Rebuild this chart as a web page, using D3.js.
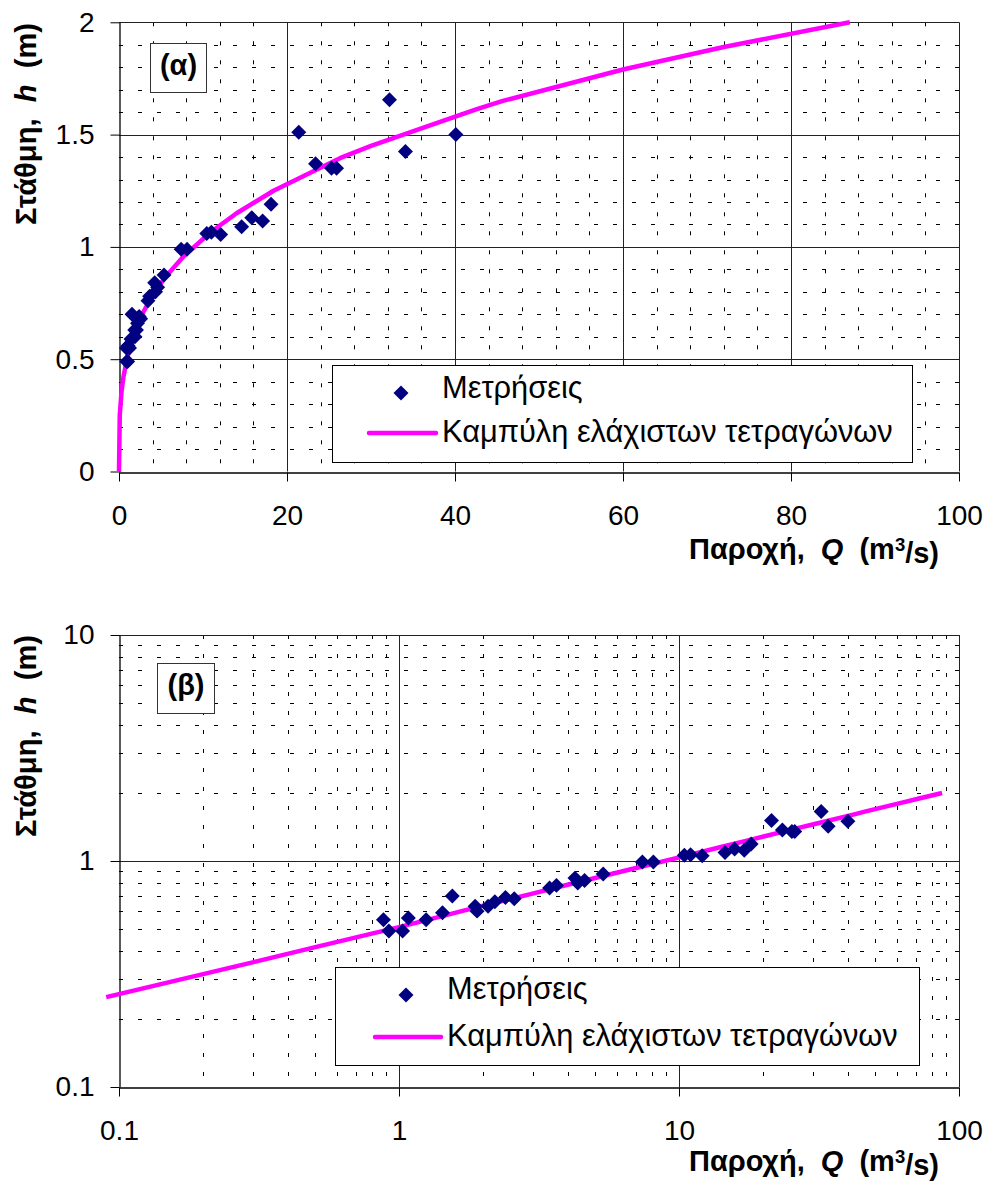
<!DOCTYPE html>
<html>
<head>
<meta charset="utf-8">
<script src="https://cdn.jsdelivr.net/npm/d3@7"></script>
<style>
  html, body { margin: 0; padding: 0; background: #fff; }
  svg { display: block; }
  text { font-family: "Liberation Sans", Arial, sans-serif; fill: #000; }
</style>
</head>
<body>
<svg id="chart" width="992" height="1182"></svg>
<script>
// ---------- data ----------
// measured discharge Q (m3/s) and stage h (m)
const measQ = [0.88, 0.92, 1.03, 1.08, 1.25, 1.43, 1.55, 1.87, 1.90, 2.08,
               2.20, 2.40, 2.58, 3.45, 3.65, 4.25, 4.35, 4.60, 5.36, 7.40,
               8.10, 10.45, 11.0, 12.1, 14.6, 15.8, 17.1, 18.1, 21.4, 23.4,
               25.3, 25.9, 32.2, 34.1, 40.1];
const measH = [0.55, 0.49, 0.49, 0.56, 0.55, 0.59, 0.70, 0.63, 0.60, 0.63,
               0.66, 0.69, 0.68, 0.76, 0.78, 0.84, 0.80, 0.82, 0.875, 0.99,
               0.99, 1.06, 1.065, 1.055, 1.09, 1.13, 1.115, 1.19, 1.51, 1.37,
               1.35, 1.35, 1.655, 1.425, 1.50];
// least squares curve vertices
const curveQ = [0, 0.09, 0.3, 0.52, 1, 2, 2.9, 4, 5.5, 7.7, 10.9, 14, 18.4, 26.3, 30, 42.6, 45.7, 60, 72, 87];
const curveH = [0, 0.25, 0.356, 0.42, 0.51, 0.635, 0.71, 0.785, 0.865, 0.958, 1.065, 1.15, 1.25, 1.395, 1.45, 1.613, 1.65, 1.79, 1.89, 2.0];

const xTicksLin = [0, 20, 40, 60, 80, 100];
const yTicksLin = [0, 0.5, 1, 1.5, 2];
const xTicksLog = [0.1, 1, 10, 100];
const yTicksLog = [0.1, 1, 10];

const seriesNames = ["Μετρήσεις", "Καμπύλη ελάχιστων τετραγώνων"];
const panelLabels = ["(α)", "(β)"];

// ---------- drawing ----------
const svg = d3.select("#chart");
svg.append("rect").attr("width", 992).attr("height", 1182).attr("fill", "#fff");

const NAVY = "#000080", MAG = "#ff00ff";
const FONT = '"Liberation Sans", Arial, sans-serif';

const points = measQ.map((q, i) => ({q, h: measH[i]}));
const curve = curveQ.map((q, i) => ({q, h: curveH[i]}));

// scale a text element's font so its rendered length matches a target width
function fit(sel, target, base) {
  const len = sel.node().getComputedTextLength();
  if (len > 0) sel.attr("font-size", (base * target / len).toFixed(2));
  return sel;
}

function diamond(g, x, y) {
  g.append("path")
    .attr("d", d3.symbol().type(d3.symbolSquare).size(112)())
    .attr("transform", `translate(${x},${y}) rotate(45)`)
    .attr("fill", NAVY);
}

function panel(cfg) {
  const {x, y, minorX, minorY, majorX, majorY, xTicks, yTicks, fmt} = cfg;
  const g = svg.append("g");
  const [x0, x1] = x.range();
  const [y0, y1] = y.range(); // y0 bottom, y1 top

  // minor dashed grid
  g.append("g").selectAll("line").data(minorX).join("line")
    .attr("x1", d => Math.round(x(d)) + 0.5).attr("x2", d => Math.round(x(d)) + 0.5)
    .attr("y1", y1).attr("y2", y0)
    .attr("stroke", "#000").attr("stroke-width", 1).attr("stroke-dasharray", "4,15");
  g.append("g").selectAll("line").data(minorY).join("line")
    .attr("y1", d => Math.round(y(d)) + 0.5).attr("y2", d => Math.round(y(d)) + 0.5)
    .attr("x1", x0).attr("x2", x1)
    .attr("stroke", "#000").attr("stroke-width", 1).attr("stroke-dasharray", "4,15");

  // major grid
  g.append("g").selectAll("line").data(majorX).join("line")
    .attr("x1", d => Math.round(x(d)) + 0.5).attr("x2", d => Math.round(x(d)) + 0.5)
    .attr("y1", y1).attr("y2", y0)
    .attr("stroke", "#222").attr("stroke-width", 1);
  g.append("g").selectAll("line").data(majorY).join("line")
    .attr("y1", d => Math.round(y(d)) + 0.5).attr("y2", d => Math.round(y(d)) + 0.5)
    .attr("x1", x0).attr("x2", x1)
    .attr("stroke", "#222").attr("stroke-width", 1);

  // axes
  const ax = g.append("g").attr("transform", `translate(0,${Math.round(y0) + 0.5})`)
    .call(d3.axisBottom(x).tickValues(xTicks).tickFormat(fmt).tickSize(9).tickSizeOuter(0).tickPadding(24));
  const ay = g.append("g").attr("transform", `translate(${Math.round(x0) + 0.5},0)`)
    .call(d3.axisLeft(y).tickValues(yTicks).tickFormat(fmt).tickSize(9).tickSizeOuter(0).tickPadding(16));
  [ax, ay].forEach(a => {
    a.selectAll("path.domain").attr("stroke", "#000").attr("stroke-width", 1.3);
    a.selectAll(".tick line").attr("stroke", "#000");
    a.selectAll("text").attr("font-size", 28).attr("font-family", FONT).attr("fill", "#000");
  });
  return g;
}

function xTitle(g, xr, base) {
  const t = g.append("text").attr("x", xr).attr("y", base).attr("text-anchor", "end")
    .attr("font-size", 28).attr("font-weight", "bold").attr("xml:space", "preserve")
    .style("white-space", "pre");
  t.append("tspan").text("Παροχή,  ");
  t.append("tspan").attr("font-style", "italic").text("Q");
  t.append("tspan").text("  (m");
  t.append("tspan").attr("font-size", "0.64em").attr("dy", "-0.43em").text("3");
  t.append("tspan").attr("dy", "0.43em").text("/s)");
  fit(t, 250, 28);
}
function yTitle(g, xb, ytop) {
  const t = g.append("text").attr("transform", `translate(${xb},${ytop}) rotate(-90)`)
    .attr("text-anchor", "end").attr("font-size", 28).attr("font-weight", "bold")
    .attr("xml:space", "preserve").style("white-space", "pre");
  t.append("tspan").text("Στάθμη,  ");
  t.append("tspan").attr("font-style", "italic").text("h");
  t.append("tspan").text("  (m)");
  fit(t, 202, 28);
}
function labelBox(g, bx, by, bw, bh, txt, base) {
  g.append("rect").attr("x", bx + 0.5).attr("y", by + 0.5).attr("width", bw).attr("height", bh)
    .attr("fill", "#fff").attr("stroke", "#333").attr("stroke-width", 1);
  g.append("text").attr("x", bx + bw / 2 + 0.5).attr("y", base).attr("text-anchor", "middle")
    .attr("font-size", 29).attr("font-weight", "bold").text(txt);
}
function legend(g, L) {
  g.append("rect").attr("x", L.x + 0.5).attr("y", L.y + 0.5).attr("width", L.w).attr("height", L.h)
    .attr("fill", "#fff").attr("stroke", "#000").attr("stroke-width", 1);
  diamond(g, L.mx, L.my);
  g.append("line").attr("x1", L.lx1).attr("x2", L.lx2).attr("y1", L.ly).attr("y2", L.ly)
    .attr("stroke", MAG).attr("stroke-width", 4.5).attr("stroke-linecap", "round");
  const t1 = g.append("text").attr("x", L.tx).attr("y", L.t1).attr("font-size", 28).text(seriesNames[0]);
  const t2 = g.append("text").attr("x", L.tx).attr("y", L.t2).attr("font-size", 28).text(seriesNames[1]);
  fit(t2, 451, 28);
  t1.attr("font-size", t2.attr("font-size"));
}

// ---------- panel (α): linear ----------
const xA = d3.scaleLinear().domain([0, 100]).range([119, 959]);
const yA = d3.scaleLinear().domain([0, 2]).range([471.5, 22.3]);
const gA = panel({
  x: xA, y: yA,
  minorX: d3.range(4, 100, 4).filter(v => v % 20 !== 0),
  minorY: d3.range(1, 20).map(v => v / 10).filter(v => Math.round(v * 10) % 5 !== 0),
  majorX: xTicksLin.slice(1), majorY: yTicksLin.slice(1),
  xTicks: xTicksLin, yTicks: yTicksLin, fmt: d => String(d)
});
labelBox(gA, 150, 43, 56, 49, panelLabels[0], 75);
legend(gA, {x: 332, y: 365, w: 580, h: 97, mx: 401, my: 393, lx1: 369, lx2: 436, ly: 433, tx: 442, t1: 398, t2: 442});
const lineA = d3.line().x(d => xA(d.q)).y(d => yA(d.h));
gA.append("path").datum(curve).attr("d", lineA).attr("fill", "none")
  .attr("stroke", MAG).attr("stroke-width", 4.5).attr("stroke-linejoin", "round");
points.forEach(p => diamond(gA, xA(p.q), yA(p.h)));
xTitle(gA, 939, 559);
yTitle(gA, 36, 23);

// ---------- panel (β): log-log ----------
const xB = d3.scaleLog().domain([0.1, 100]).range([119, 959]);
const yB = d3.scaleLog().domain([0.1, 10]).range([1087, 635]);
const minorDec = (lo, hi) => {
  const out = [];
  for (let e = lo; e < hi; e++) for (let k = 2; k <= 9; k++) out.push(k * Math.pow(10, e));
  return out;
};
const gB = panel({
  x: xB, y: yB,
  minorX: minorDec(-1, 2), minorY: minorDec(-1, 1),
  majorX: xTicksLog.slice(1), majorY: yTicksLog.slice(1),
  xTicks: xTicksLog, yTicks: yTicksLog, fmt: d => String(d)
});
labelBox(gB, 157, 663, 57, 50, panelLabels[1], 695);
const lineB = d3.line().x(d => xB(d.q)).y(d => yB(d.h));
gB.append("path").datum(curve.filter(d => d.q > 0)).attr("d", lineB).attr("fill", "none")
  .attr("stroke", MAG).attr("stroke-width", 4.5).attr("stroke-linejoin", "round");
points.forEach(p => diamond(gB, xB(p.q), yB(p.h)));
legend(gB, {x: 335, y: 967, w: 584, h: 98, mx: 406, my: 995, lx1: 375, lx2: 441, ly: 1037, tx: 447, t1: 999, t2: 1046});
xTitle(gB, 939, 1171);
yTitle(gB, 36, 635);
</script>
</body>
</html>
